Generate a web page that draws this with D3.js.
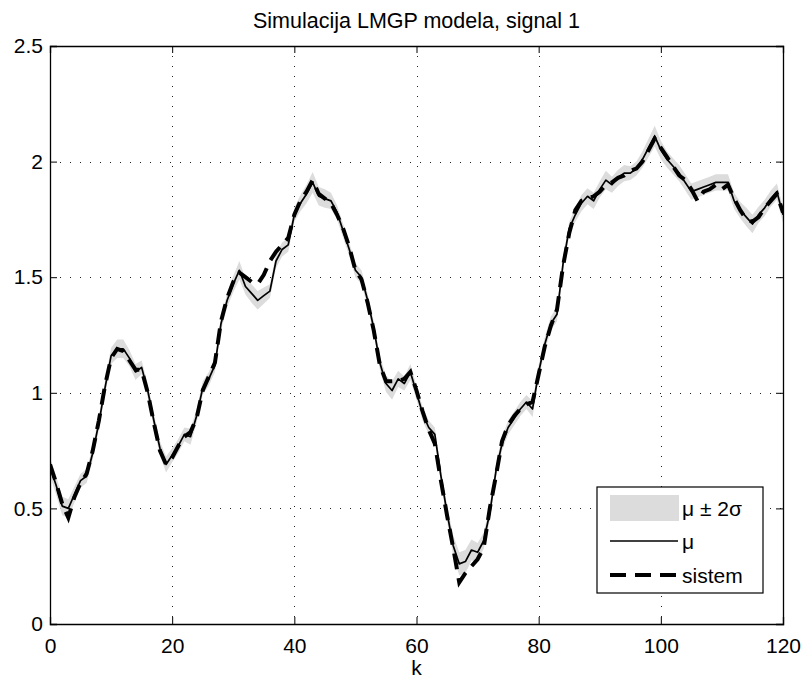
<!DOCTYPE html>
<html>
<head>
<meta charset="utf-8">
<script src="https://cdn.jsdelivr.net/npm/d3@7"></script>
<style>
  html, body { margin: 0; padding: 0; background: #fff; }
  svg { display: block; font-family: "Liberation Sans", Arial, sans-serif; }
</style>
</head>
<body>
<svg id="chart" width="803" height="679"></svg>
<script>
// --- podaci (procitano sa slike) ---
const kVals = d3.range(0, 121);

const mu = [
  0.68, 0.60, 0.51, 0.50, 0.56, 0.62, 0.64, 0.74, 0.87, 1.02,
  1.16, 1.19, 1.19, 1.15, 1.09, 1.11, 1.01, 0.88, 0.76, 0.69,
  0.73, 0.77, 0.82, 0.81, 0.90, 1.02, 1.06, 1.12, 1.30, 1.40,
  1.47, 1.53, 1.46, 1.43, 1.40, 1.42, 1.44, 1.57, 1.62, 1.64,
  1.77, 1.82, 1.86, 1.91, 1.85, 1.84, 1.83, 1.78, 1.70, 1.62,
  1.53, 1.50, 1.40, 1.28, 1.13, 1.04, 1.01, 1.06, 1.04, 1.09,
  1.00, 0.91, 0.85, 0.82, 0.64, 0.48, 0.34, 0.26, 0.27, 0.32,
  0.31, 0.36, 0.48, 0.66, 0.78, 0.85, 0.89, 0.93, 0.96, 0.93,
  1.09, 1.21, 1.30, 1.34, 1.56, 1.71, 1.77, 1.82, 1.85, 1.83,
  1.88, 1.92, 1.90, 1.93, 1.95, 1.95, 1.97, 2.01, 2.06, 2.11,
  2.05, 2.01, 1.98, 1.95, 1.91, 1.87, 1.88, 1.89, 1.90, 1.91,
  1.91, 1.91, 1.83, 1.79, 1.76, 1.73, 1.77, 1.80, 1.84, 1.87,
  1.77
];

const sistem = [
  0.69, 0.61, 0.52, 0.46, 0.55, 0.61, 0.65, 0.75, 0.88, 1.03,
  1.15, 1.19, 1.18, 1.14, 1.10, 1.10, 1.00, 0.87, 0.75, 0.69,
  0.72, 0.77, 0.81, 0.83, 0.89, 1.01, 1.07, 1.13, 1.31, 1.41,
  1.48, 1.52, 1.50, 1.48, 1.47, 1.51, 1.57, 1.61, 1.64, 1.67,
  1.77, 1.83, 1.87, 1.92, 1.86, 1.84, 1.82, 1.77, 1.71, 1.63,
  1.53, 1.49, 1.39, 1.27, 1.12, 1.05, 1.05, 1.05, 1.06, 1.09,
  1.01, 0.92, 0.84, 0.78, 0.62, 0.47, 0.33, 0.18, 0.22, 0.25,
  0.28, 0.33, 0.50, 0.64, 0.79, 0.86, 0.90, 0.93, 0.95, 0.96,
  1.08, 1.20, 1.29, 1.36, 1.55, 1.69, 1.79, 1.83, 1.84, 1.85,
  1.87, 1.90, 1.91, 1.93, 1.94, 1.96, 1.97, 2.00, 2.05, 2.10,
  2.06, 2.02, 1.98, 1.94, 1.92, 1.88, 1.83, 1.87, 1.88, 1.90,
  1.88, 1.90, 1.84, 1.79, 1.75, 1.74, 1.76, 1.80, 1.83, 1.86,
  1.78
];

// 2*sigma (pola sirine sivog pojasa)
const twoSigma = [
  0.04, 0.04, 0.04, 0.04, 0.035, 0.03, 0.03, 0.03, 0.03, 0.03,
  0.035, 0.04, 0.04, 0.035, 0.035, 0.03, 0.03, 0.03, 0.03, 0.035,
  0.03, 0.03, 0.03, 0.035, 0.03, 0.03, 0.03, 0.03, 0.03, 0.03,
  0.035, 0.04, 0.035, 0.04, 0.04, 0.035, 0.03, 0.03, 0.03, 0.03,
  0.03, 0.035, 0.04, 0.045, 0.04, 0.04, 0.035, 0.03, 0.03, 0.03,
  0.03, 0.03, 0.03, 0.03, 0.03, 0.035, 0.04, 0.035, 0.03, 0.035,
  0.03, 0.03, 0.03, 0.03, 0.03, 0.035, 0.045, 0.05, 0.05, 0.045,
  0.04, 0.035, 0.03, 0.03, 0.03, 0.03, 0.03, 0.03, 0.03, 0.035,
  0.03, 0.03, 0.03, 0.03, 0.03, 0.03, 0.03, 0.035, 0.035, 0.035,
  0.035, 0.04, 0.035, 0.035, 0.035, 0.03, 0.03, 0.035, 0.04, 0.045,
  0.04, 0.035, 0.035, 0.035, 0.035, 0.035, 0.035, 0.035, 0.035, 0.035,
  0.035, 0.035, 0.035, 0.035, 0.04, 0.04, 0.035, 0.035, 0.035, 0.035,
  0.035
];

const xTicks = [0, 20, 40, 60, 80, 100, 120];
const yTicks = [0, 0.5, 1, 1.5, 2, 2.5];
const legendLabels = ['\u03bc \u00b1 2\u03c3', '\u03bc', 'sistem'];
const title = 'Simulacija LMGP modela, signal 1';
const xLabel = 'k';

// --- raspored ---
const L = 50, R = 783, T = 46, B = 624;
const bandColor = '#dcdcdc';

const svg = d3.select('#chart');
const x = d3.scaleLinear().domain([0, 120]).range([L, R]);
const y = d3.scaleLinear().domain([0, 2.5]).range([B, T]);

svg.append('defs').append('clipPath').attr('id', 'clip')
  .append('rect').attr('x', L).attr('y', T).attr('width', R - L).attr('height', B - T);

// mreza
const grid = svg.append('g').attr('stroke', '#222').attr('stroke-width', 1)
  .attr('stroke-dasharray', '1,9');
grid.selectAll('.gx').data(xTicks.slice(1, -1)).join('line')
  .attr('x1', d => Math.round(x(d)) + 0.5).attr('x2', d => Math.round(x(d)) + 0.5)
  .attr('y1', T).attr('y2', B);
grid.selectAll('.gy').data(yTicks.slice(1, -1)).join('line')
  .attr('y1', d => Math.round(y(d)) + 0.5).attr('y2', d => Math.round(y(d)) + 0.5)
  .attr('x1', L).attr('x2', R);

const pts = kVals.map((k, i) => ({ k, m: mu[i], s: sistem[i], e: twoSigma[i] }));
const plot = svg.append('g').attr('clip-path', 'url(#clip)');

// pojas mu +- 2 sigma
plot.append('path').datum(pts)
  .attr('fill', bandColor)
  .attr('d', d3.area().x(d => x(d.k)).y0(d => y(d.m - d.e)).y1(d => y(d.m + d.e)));

// mu
plot.append('path').datum(pts)
  .attr('fill', 'none').attr('stroke', '#000').attr('stroke-width', 1.7)
  .attr('stroke-linejoin', 'round')
  .attr('d', d3.line().x(d => x(d.k)).y(d => y(d.m)));

// sistem
plot.append('path').datum(pts)
  .attr('fill', 'none').attr('stroke', '#000').attr('stroke-width', 4)
  .attr('stroke-dasharray', '16,9')
  .attr('d', d3.line().x(d => x(d.k)).y(d => y(d.s)));

// osi - okvir i crtice sa unutrasnje strane
const axB = svg.append('g').attr('transform', `translate(0,${B})`)
  .call(d3.axisBottom(x).tickValues(xTicks).tickSize(-7).tickPadding(14));
const axT = svg.append('g').attr('transform', `translate(0,${T})`)
  .call(d3.axisTop(x).tickValues(xTicks).tickSize(-7).tickFormat(''));
const axL = svg.append('g').attr('transform', `translate(${L},0)`)
  .call(d3.axisLeft(y).tickValues(yTicks).tickSize(-7).tickPadding(7).tickFormat(d3.format('')));
const axR = svg.append('g').attr('transform', `translate(${R},0)`)
  .call(d3.axisRight(y).tickValues(yTicks).tickSize(-7).tickFormat(''));

[axB, axT, axL, axR].forEach(a => {
  a.select('.domain').attr('stroke', '#000').attr('stroke-width', 1.3);
  a.selectAll('.tick line').attr('stroke', '#000');
  a.selectAll('text').attr('font-size', 21).attr('fill', '#000')
    .attr('font-family', '"Liberation Sans", Arial, sans-serif');
});

svg.append('text').attr('x', (L + R) / 2).attr('y', 28)
  .attr('text-anchor', 'middle').attr('font-size', 21.5).text(title);
svg.append('text').attr('x', (L + R) / 2).attr('y', 675)
  .attr('text-anchor', 'middle').attr('font-size', 21).text(xLabel);

// legenda
const lg = svg.append('g').attr('transform', 'translate(597,487)');
lg.append('rect').attr('width', 166).attr('height', 106)
  .attr('fill', '#fff').attr('stroke', '#000').attr('stroke-width', 1.2);
lg.append('rect').attr('x', 13).attr('y', 8).attr('width', 69).attr('height', 26)
  .attr('fill', bandColor);
lg.append('line').attr('x1', 13).attr('x2', 81).attr('y1', 54).attr('y2', 54)
  .attr('stroke', '#000').attr('stroke-width', 1.7);
lg.append('line').attr('x1', 13).attr('x2', 81).attr('y1', 88).attr('y2', 88)
  .attr('stroke', '#000').attr('stroke-width', 4).attr('stroke-dasharray', '16,9');
lg.selectAll('.lt').data(legendLabels).join('text')
  .attr('x', 85).attr('y', (d, i) => [29, 62, 96][i])
  .attr('font-size', 21).text(d => d);
</script>
</body>
</html>
